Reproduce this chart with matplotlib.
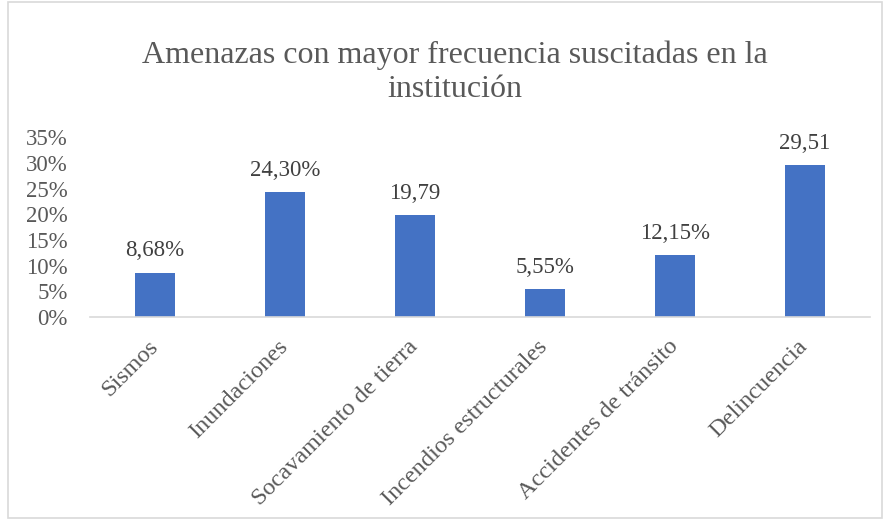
import matplotlib.pyplot as plt
from matplotlib.patches import Rectangle
from matplotlib.ticker import FuncFormatter, MultipleLocator

plt.rcParams["font.family"] = ["Liberation Serif", "DejaVu Serif"]

categories = [
    "Sismos",
    "Inundaciones",
    "Socavamiento de tierra",
    "Incendios estructurales",
    "Accidentes de tránsito",
    "Delincuencia",
]
values = [8.68, 24.30, 19.79, 5.55, 12.15, 29.51]
value_labels = ["8,68%", "24,30%", "19,79", "5,55%", "12,15%", "29,51"]

BAR_COLOR = "#4472C4"
TEXT_COLOR = "#595959"

fig = plt.figure(figsize=(8.85, 5.2), dpi=100)
ax = fig.add_axes([0.1017, 0.390, 0.881, 0.3462])

x = list(range(len(categories)))
bars = ax.bar(x, values, width=0.31, color=BAR_COLOR)

for b, lab in zip(bars, value_labels):
    ax.annotate(lab, (b.get_x() + b.get_width() / 2, b.get_height()),
                xytext=(0, 8), textcoords="offset points",
                ha="center", va="bottom", fontsize=16.5, color="#404040")

ax.set_xlim(-0.5, len(categories) - 0.5)
ax.set_ylim(0, 35)
ax.yaxis.set_major_locator(MultipleLocator(5))
ax.yaxis.set_major_formatter(FuncFormatter(lambda v, _: f"{v:.0f}%"))
ax.set_xticks(x)
ax.set_xticklabels(categories, rotation=45, ha="right", va="center",
                   rotation_mode="anchor", fontsize=17.5)

ax.tick_params(axis="both", length=0, labelcolor=TEXT_COLOR)
ax.tick_params(axis="y", pad=16, labelsize=16.5)
ax.tick_params(axis="x", pad=19)
for s in ["top", "right", "left"]:
    ax.spines[s].set_visible(False)
ax.spines["bottom"].set_color("#D9D9D9")
ax.spines["bottom"].set_linewidth(1.2)

fig.text(0.5145, 0.861, "Amenazas con mayor frecuencia suscitadas en la\ninstitución",
         ha="center", va="center", fontsize=23, color=TEXT_COLOR, linespacing=1.2)

fig.patches.append(Rectangle((0.009, 0.004), 0.988, 0.992, transform=fig.transFigure,
                             fill=False, edgecolor="#D9D9D9", linewidth=1.2))

fig.savefig("out.png", dpi=100)
